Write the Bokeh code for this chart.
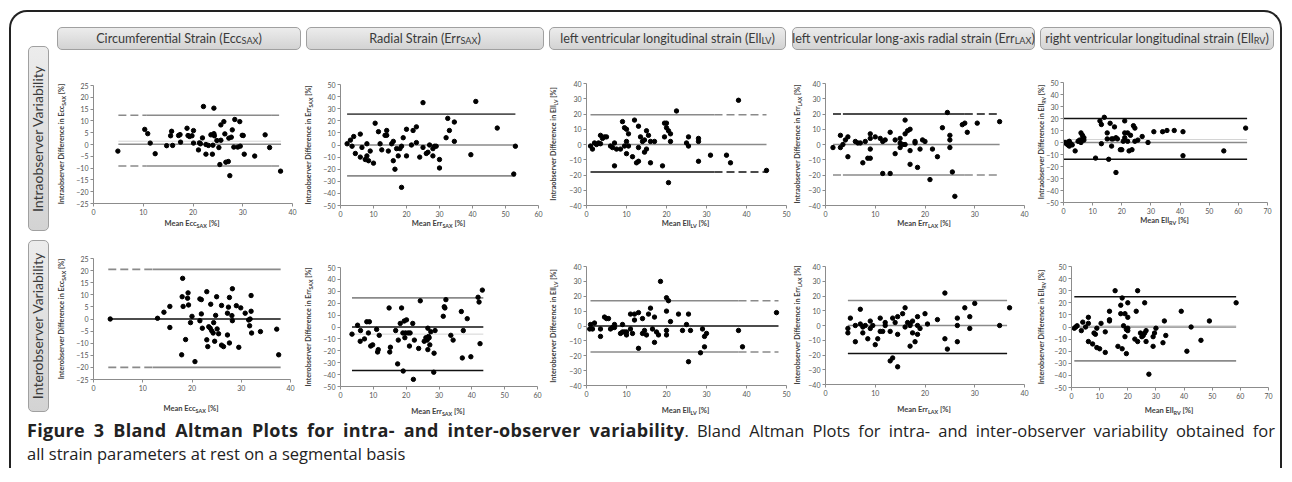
from bokeh.plotting import figure
from bokeh.models import Div, Range1d, FixedTicker
from bokeh.layouts import row, column
from bokeh.embed import file_html
from bokeh.resources import INLINE

# ------------------------------------------------------------------ data
col_titles = [
    "Circumferential Strain (Ecc<sub>SAX</sub>)",
    "Radial Strain (Err<sub>SAX</sub>)",
    "left ventricular longitudinal strain (Ell<sub>LV</sub>)",
    "left ventricular long-axis radial strain (Err<sub>LAX</sub>)",
    "right ventricular longitudinal strain (Ell<sub>RV</sub>)",
]
row_titles = ["Intraobserver Variability", "Interobserver Variability"]
row_prefix = ["Intraobserver", "Interobserver"]
param_names = ["Ecc<sub>SAX</sub>", "Err<sub>SAX</sub>", "Ell<sub>LV</sub>", "Err<sub>LAX</sub>", "Ell<sub>RV</sub>"]

x_ticks = [
    [0, 10, 20, 30, 40],
    [0, 10, 20, 30, 40, 50, 60],
    [0, 10, 20, 30, 40, 50],
    [0, 10, 20, 30, 40],
    [0, 10, 20, 30, 40, 50, 60, 70],
]
y_ticks = [
    [-25, -20, -15, -10, -5, 0, 5, 10, 15, 20, 25],
    [-50, -40, -30, -20, -10, 0, 10, 20, 30, 40, 50],
    [-40, -30, -20, -10, 0, 10, 20, 30, 40],
    [-40, -30, -20, -10, 0, 10, 20, 30, 40],
    [-50, -40, -30, -20, -10, 0, 10, 20, 30, 40, 50],
]

# (mean, difference) pairs
intra_ecc = [(4.9, -2.8), (10.3, 6.4), (10.9, 4.6), (11.4, 0.6), (12.4, -3.9), (14.7, -0.5), (15.5, 3.7),
             (15.7, 5.6), (15.9, -0.4), (17.1, 3.8), (17.4, 4.2), (17.5, 1.0), (18.8, 6.9), (19.0, 3.8),
             (19.3, 3.4), (19.8, 3.7), (20.1, 5.9), (20.1, 0.6), (21.1, -2.3), (21.3, 0.7), (21.5, 0.3),
             (21.9, 2.8), (22.1, 16.1), (22.6, -4.1), (22.6, 0.0), (23.1, -0.4), (23.6, 4.1), (23.9, -4.1),
             (24.0, -0.3), (24.2, 15.4), (24.2, 4.6), (24.3, 3.7), (24.8, 1.7), (25.2, -1.3), (25.4, -8.5),
             (25.6, 8.3), (25.6, 1.8), (26.2, 9.7), (26.4, 4.5), (26.6, -7.5), (27.1, -7.2), (27.2, 2.7),
             (27.4, -13.2), (27.7, 3.1), (27.9, 6.2), (28.2, -1.1), (28.4, 10.6), (29.0, -1.1), (29.4, 9.7),
             (29.5, -0.7), (29.9, 3.9), (30.1, 3.8), (30.3, -4.1), (32.4, -4.9), (34.5, 4.1), (35.4, -1.3),
             (37.6, -11.3)]
intra_err_sax = [(2, 1), (3, 4), (3.5, -1), (4, 7), (4.5, -7), (6, -10), (6, 9), (6.5, -2), (7.5, -12),
                 (8, -9), (8, 1), (8.5, -13), (9, -5), (10, -15), (10.5, 18), (11.5, 11), (12, 1), (12.5, -4),
                 (13.5, 8), (14, 12), (14, 8), (14.5, -5), (15.5, 1), (16, -13), (16, 3), (16.5, -20), (17, -3),
                 (17.5, -9), (18, -3), (18.5, -1), (18.5, -35), (19, 6), (20, -9), (20, 13), (21.5, 0), (22, 12),
                 (23, 2), (23, 15), (24, -10), (25, 35), (25, -2), (26, -7), (26.5, -6), (27, 0), (28, -3),
                 (28, -9), (28.5, -1), (29, -1), (30, -19), (30, -12), (32, 6), (32.5, 22), (33, 12), (34.5, 19),
                 (34.5, 3), (39.5, -8), (41, 36), (47.5, 14), (52.5, -24), (53, -1)]
intra_ell_lv = [(1, -1), (1.5, -3), (2, 1), (2.5, 0), (3, 1), (3.5, 0.5), (3.5, 6), (4, 4), (4.5, 5), (5, 5),
                (6, -1), (6.5, -2), (7, -14), (7, 1), (7.5, -3), (8.5, -3), (9, 15), (9.5, 11), (9.5, -1),
                (10, 10), (10, 2), (10, -6), (10.5, 7), (10.5, -1), (11.5, -8), (12, 16), (12.5, -12), (13, 12),
                (13, -11), (13, -2), (13.5, 5), (14, 2), (14.5, 3), (14.5, -5), (15, 9), (15, -3), (15.5, 6),
                (16, 2), (16, -12), (17, 2), (19, -14), (19.5, 5), (19.5, 14), (20, 11), (20, 14), (20.5, 9),
                (20.5, -25), (21, 7), (21, 2), (22.5, 22), (25, 1), (25.5, 5), (25.5, -1), (28, 4), (28, 2),
                (28, -11), (31, -7), (35, -7), (36, -12), (38, 29), (45, -17)]
intra_err_lax = [(1.5, -2), (3, 6), (3, -2), (3.5, 0), (4, 3), (4.5, 5), (4.5, -8), (6, 2), (6.5, 1), (7, 1),
                 (7.5, -12), (8, 2), (8.5, -9), (9, 7), (9, 4), (9, -3), (9, -9), (10, 5), (11, 4), (11.5, 2),
                 (11.5, -19), (12, 3), (13, 8), (13, -19), (14, 3), (14, -6), (15, 1), (15, 4), (15, -2),
                 (15.5, 0), (16, 16), (16, 7), (16, 0), (16.5, 9), (17, 10), (17, -13), (17, -4), (18, 1),
                 (18, 2), (18.5, -15), (19, -3), (19.5, 3), (20, 2), (21, -23), (21.5, -3), (22.5, -8),
                 (23.5, 11), (24.5, 21), (25, 6), (25, 3), (25, -2), (25.5, -18), (26, -34), (27.5, 13),
                 (28, 14), (28.5, 8), (30.5, 14), (35, 15)]
intra_ell_rv = [(0.5, 0), (1, -1), (1.5, -2), (1.5, 0), (2, -3), (2, 1), (2.5, -1), (3, -2), (4, -7), (5, 1),
                (5.5, 2), (6, 8), (6, 0), (6.5, 6), (6.5, 3), (7, 2), (7, 4), (11, -13), (12.5, 18), (13, 15),
                (13, -1), (14, 21), (15, 3), (15, 8), (15.5, -14), (16, 16), (16.5, 3), (16.5, -3), (17, 3),
                (17.5, 13), (18, 4), (18, -25), (18.5, 3), (19.5, -6), (20, -6), (20.5, 1), (21, 18), (21, 8),
                (21, 4), (22, 8), (22, 1), (22.5, -7), (23, 6), (23.5, -6), (24, 14), (24.5, 12), (24.5, 1),
                (25.5, 2), (27, 5), (29, 0), (31, 9), (34, 9), (35.5, 10), (38, 10), (41, 9), (41, -11),
                (55, -7), (62.5, 12)]

inter_ecc = [(3.4, 0), (13.0, 0.3), (14.3, 2.8), (15.5, 5.2), (15.5, -3.5), (17.9, -14.8), (18.0, 9.2),
             (18.1, 16.8), (18.2, 5.2), (18.7, -8.5), (19.1, 8.6), (19.2, 10.8), (19.3, 5.8), (19.7, -1.5),
             (20.0, 1.1), (20.6, -17.6), (21.6, -0.7), (21.6, 8.3), (21.9, 8.0), (21.9, 2.1), (22.1, -3.8),
             (23.0, 11.3), (23.0, -8.6), (23.2, -11.4), (23.4, -3.2), (23.7, -3.8), (23.8, 6.1), (24.0, -4.9),
             (24.3, -5.8), (24.4, -1.5), (24.6, -9.2), (24.8, 1.5), (25.0, 9.2), (25.1, -4.1), (25.4, -6.1),
             (26.0, 5.6), (26.0, -10.8), (26.4, -11.4), (27.2, -6.6), (27.2, 2.4), (27.4, 4.9), (27.6, 8.9),
             (27.6, -9.9), (28.1, 1.4), (28.2, 12.5), (28.2, -0.7), (29.0, 5.5), (29.5, -11.7), (29.9, 4.6),
             (30.8, 2.4), (31.5, -0.4), (31.7, -2.8), (31.8, 0), (32.0, 9.7), (32.0, 3.2), (32.1, -5.8),
             (33.9, -5.2), (37.2, -4.2), (37.6, -14.8)]
inter_err_sax = [(3.5, -6), (5.2, 1.5), (6.1, -3), (6.0, -12), (7.3, -10), (8.0, 4.4), (8.5, -5), (8.8, 4.4),
                 (9.2, -16), (9.8, -15), (11.0, -2), (11.3, -21), (11.5, -19), (11.8, -7), (14.8, 16),
                 (15.0, -21), (15.2, -17), (16.8, -3), (17.4, -31), (17.6, -11), (18.2, 3), (18.6, 16),
                 (19.0, -5), (19.1, -37), (19.4, 5), (19.6, -9), (19.8, -5), (20.1, 6), (20.6, -5), (21.0, -16),
                 (21.2, -5), (22.0, 3), (22.2, -44), (22.5, -11), (23.8, -18), (24.3, 22), (25.5, -12),
                 (26.0, -9), (26.4, -11), (26.6, -1), (26.6, -19), (26.8, -8), (27.0, -9), (27.2, -15),
                 (27.5, -4), (28.4, -38), (28.5, -22), (28.8, -3), (31.3, 9), (31.6, 17), (31.8, 16), (32.1, 23),
                 (33.6, -7), (34.3, -11), (36.8, 13), (37.1, -26), (37.4, -3), (38.6, 7), (39.7, -25),
                 (41.9, 25), (42.2, 21), (42.5, -14), (43.2, 31)]
inter_ell_lv = [(0.8, -2), (1, 1), (1.5, -2), (2, 2), (3.5, -2), (3.5, -7), (4.5, 6), (5, 5), (5.5, 5), (6, -2),
                (6.5, -1), (7, 1), (7, -1), (8.5, -5), (9, 1), (9, -4), (9.5, -4), (10, -6), (10, -4), (11, 8),
                (11, -2), (11.5, -5), (12, 8), (12, 4), (13, 9), (13, -15), (14, -5), (14, 5), (14.5, -3),
                (15, -6), (15.5, 8), (16, 12), (16.5, -2), (17, 6), (17, -11), (17.5, -4), (18, -6), (18.5, 30),
                (20, 10), (20, 19), (20, -3), (20, -6), (20.5, 17), (21, 3), (23, 8), (24, -3), (25, 1),
                (25.5, -24), (25.5, 8), (26, -3), (28.5, -18), (29, -2), (29.5, -14), (29.5, -7), (30, -5),
                (38, -3), (39, -14), (47.5, 9)]
inter_err_lax = [(4.5, -2), (4.5, -5), (5, 5), (6, 0), (6, -11), (7, 1), (7, 11), (7.5, -5), (7.5, -1), (8, 0),
                 (8.5, -9), (9, 3), (9, -2), (9.5, 0), (10, -13), (10.5, -9), (11, 5), (11, -4), (11.5, -4),
                 (12, 2), (12, 0), (13, -4), (13, -24), (13.5, 5), (13.5, -22), (14, 2), (14.5, 6), (14.5, -28),
                 (14.5, -6), (15.5, 8), (16, 12), (16, -1), (16.5, 2), (17, 0), (17, -14), (17, 1), (17.5, -5),
                 (17.5, 3), (18, -11), (18.5, 6), (18.5, -6), (18.5, 0), (19, -2), (20, 8), (20.5, 1),
                 (22.5, 4), (24, 22), (24, -9), (24.5, -16), (26.5, 5), (26.5, 0), (26.5, -11), (28, 12),
                 (29, -2), (29, 6), (30, 15), (35, 0), (37, 12)]
inter_ell_rv = [(1, -1), (1.5, 0), (2, 1), (3.5, -3), (4, 4), (5, 0), (6, 8), (6, 3), (6, -12), (7.5, -14),
                (8, -5), (8.5, -6), (9, -1), (9, -17), (10, -18), (10.5, 3), (12, -21), (12, -4), (13.5, 13),
                (13.5, 6), (13.5, 5), (15.5, 30), (16.5, -16), (17.5, 18), (17.5, 11), (18, 24), (18, -18),
                (18.5, 1), (19, -8), (19, 11), (19.5, -22), (19.5, -2), (20, 20), (20, -1), (20, -3), (20, 8),
                (22.5, -10), (23, 13), (23.5, 30), (23.5, -12), (24.5, -5), (25, -8), (25.5, -7), (26, 20),
                (26, -5), (26.5, -3), (26.5, -12), (27.5, -39), (29, -16), (29, -8), (29.5, -5), (30, -1),
                (32.5, -13), (33, 5), (33.5, -7), (39, 13), (41, -20), (42.5, 0), (46, -11), (49, 5), (58.5, 20)]

# bias / limits-of-agreement lines: (value, x_start, x_end, solid_start, solid_end)
intra_ecc_lines = [(12.4, 5.0, 37.7, 10.7, 35.7), (0.1, 5.0, 37.7, 5.0, 37.7), (1.4, 5.0, 37.7, 5.0, 37.7),
                   (-9.1, 5.0, 37.7, 10.7, 35.7)]
intra_err_sax_lines = [(25.5, 2, 53, 2, 53), (0, 2, 53, 2, 53), (-25.5, 2, 53, 2, 53)]
intra_ell_lv_lines = [(19.5, 1, 45, 1, 32), (0, 1, 45, 1, 45), (-18, 1, 45, 1, 32)]
intra_err_lax_lines = [(20, 1.5, 35, 3.5, 28), (0, 1.5, 35, 1.5, 35), (-20, 1.5, 35, 3.5, 28)]
intra_ell_rv_lines = [(20, 0, 63, 0, 63), (0, 0, 63, 0, 63), (2.5, 0, 63, 0, 63), (-14, 0, 63, 0, 63)]
inter_ecc_lines = [(20.5, 3, 38, 12, 38), (0, 3, 38, 3, 38), (-20, 3, 38, 12, 38)]
inter_err_sax_lines = [(24.5, 3.5, 43.5, 3.5, 43.5), (0, 3.5, 43.5, 3.5, 43.5), (-6, 3.5, 43.5, 3.5, 43.5),
                       (-36.5, 3.5, 43.5, 3.5, 43.5)]
inter_ell_lv_lines = [(17, 1, 48, 1, 38), (0, 1, 48, 1, 48), (-17.5, 1, 48, 1, 38)]
inter_err_lax_lines = [(17, 4.5, 36.5, 4.5, 36.5), (0, 4.5, 36.5, 4.5, 36.5), (-19, 4.5, 36.5, 4.5, 36.5)]
inter_ell_rv_lines = [(25, 1, 58.5, 1, 58.5), (0, 1, 58.5, 1, 58.5), (1, 1, 58.5, 1, 58.5), (-28, 1, 58.5, 1, 58.5)]

caption_bold = "Figure 3 Bland Altman Plots for intra- and inter-observer variability"
caption_line1 = ". Bland Altman Plots for intra- and inter-observer variability obtained for"
caption_line2 = "all strain parameters at rest on a segmental basis"

# ------------------------------------------------------------------ styles / geometry
GRAY = "#8a8a8a"
DARK = "#555555"
BLACK = "#111111"
FAINT = "#d4d4d4"
line_colors = [
    [[GRAY, GRAY, FAINT, GRAY], [DARK, GRAY, GRAY], [GRAY, GRAY, BLACK], [BLACK, GRAY, GRAY], [BLACK, GRAY, FAINT, BLACK]],
    [[GRAY, BLACK, GRAY], [GRAY, BLACK, FAINT, BLACK], [GRAY, BLACK, GRAY], [GRAY, GRAY, BLACK], [BLACK, GRAY, FAINT, GRAY]],
]
points = [[intra_ecc, intra_err_sax, intra_ell_lv, intra_err_lax, intra_ell_rv],
          [inter_ecc, inter_err_sax, inter_ell_lv, inter_err_lax, inter_ell_rv]]
lines = [[intra_ecc_lines, intra_err_sax_lines, intra_ell_lv_lines, intra_err_lax_lines, intra_ell_rv_lines],
         [inter_ecc_lines, inter_err_sax_lines, inter_ell_lv_lines, inter_err_lax_lines, inter_ell_rv_lines]]

# page-pixel geometry of the cells
cols = [(52, 302), (302, 548), (548, 792), (792, 1038), (1038, 1281)]
bands = [(55, 237), (237, 417)]
# frame_left, frame_right, frame_top, frame_bottom, xlabel_center_y, ylabel_center_x
frames = [
    [(93, 293, 86, 204, 225, 63), (340, 539, 85, 206, 222, 310), (586, 787, 84, 206, 225, 555),
     (825, 1025, 84, 206, 222, 799), (1063, 1268, 83, 203, 219, 1043)],
    [(93, 291, 259, 380, 410, 63), (340, 538, 268, 387, 413, 310), (586, 787, 267, 386, 412, 555),
     (825, 1025, 267, 385, 411, 799), (1071, 1269, 267, 388, 412, 1043)],
]
ORIGIN_X, ORIGIN_Y = 12, 13
LBL = "font-family:Lato;font-weight:bold;font-size:7.2px;color:#404040;white-space:nowrap;"
SUB = "<span style='font-size:0.72em;position:relative;top:0.32em'>"


def subfix(html):
    return html.replace("<sub>", SUB).replace("</sub>", "</span>")


def style_axis(ax, ticks):
    ax.ticker = FixedTicker(ticks=ticks)
    ax.axis_line_color = "#8c8c8c"
    ax.major_tick_line_color = "#8c8c8c"
    ax.major_tick_out = 3
    ax.major_tick_in = 0
    ax.minor_tick_line_color = None
    ax.major_label_text_font = "Lato"
    ax.major_label_text_font_size = "7px"
    ax.major_label_text_color = "#555555"
    ax.major_label_standoff = 2


def make_cell(r, c):
    col_l, col_r = cols[c]
    fl, fr, ft, fb, xl_cy, yl_cx = frames[r][c]
    bt, bb = bands[r]
    mbl, mbb = 19, 14
    fig_left = fl - mbl
    ydiv_w = fig_left - col_l
    fig_w = col_r - fig_left
    mbr = col_r - fr
    mbt = ft - bt
    fig_h = mbt + (fb - ft) + mbb
    xdiv_h = bb - bt - fig_h
    xl_top = max(0, xl_cy - 5 - (bt + fig_h))

    xt, yt = x_ticks[c], y_ticks[c]
    p = figure(width=fig_w, height=fig_h, x_range=Range1d(xt[0], xt[-1]), y_range=Range1d(yt[0], yt[-1]),
               output_backend="svg", toolbar_location=None,
               min_border_left=mbl, min_border_right=mbr, min_border_top=mbt, min_border_bottom=mbb,
               background_fill_alpha=0, border_fill_alpha=0, outline_line_color=None)
    p.grid.visible = False
    style_axis(p.xaxis[0], xt)
    style_axis(p.yaxis[0], yt)

    for (v, x0, x1, s0, s1), col in zip(lines[r][c], line_colors[r][c]):
        w = 1.0 if col == FAINT else 1.6
        if s0 > x0:
            p.line([x0, s0], [v, v], line_color=col, line_width=w, line_dash="8 4")
        if s1 < x1:
            p.line([s1, x1], [v, v], line_color=col, line_width=w, line_dash="8 4")
        p.line([s0, s1], [v, v], line_color=col, line_width=w)

    xs = [pt[0] for pt in points[r][c]]
    ys = [pt[1] for pt in points[r][c]]
    p.scatter(xs, ys, size=4.4, color="black")

    ylab = (f"{row_prefix[r]} Difference in {subfix(param_names[c])} [%]")
    ydiv = Div(width=max(ydiv_w, 1), height=bb - bt, margin=0, styles={"overflow": "visible"},
               text=(f"<div style='position:relative;width:{ydiv_w}px;height:{bb - bt}px'>"
                     f"<div style='position:absolute;left:{yl_cx - col_l}px;top:{(ft + fb) / 2 - bt}px;"
                     f"transform:translate(-50%,-50%) rotate(-90deg);{LBL}'>{ylab}</div></div>"))
    xlab = f"Mean {subfix(param_names[c])} [%]"
    xdiv = Div(width=fig_w, height=xdiv_h, margin=0, styles={"overflow": "visible"},
               text=(f"<div style='position:relative;width:{fig_w}px;height:{xdiv_h}px'>"
                     f"<div style='position:absolute;left:{(fl + fr) / 2 - fig_left}px;top:{xl_top}px;"
                     f"line-height:10px;transform:translateX(-50%);{LBL}font-size:7.5px'>{xlab}</div></div>"))
    return row(ydiv, column(p, xdiv, spacing=0), spacing=0)


BOX = ("position:absolute;box-sizing:border-box;border:1px solid #a0a0a0;border-radius:5px;"
       "background:linear-gradient(#ececec,#d3d3d3);font-family:Lato;color:#3a3a3a;"
       "display:flex;align-items:center;justify-content:center;white-space:nowrap;")

# header boxes (page x ranges)
hdr_x = [(58, 302), (307, 545), (550, 787), (793, 1036), (1041, 1275)]
hdr_html = "".join(
    f"<div style='{BOX}left:{x0 - 52}px;top:15px;width:{x1 - x0}px;height:23px;font-size:12.6px'>{subfix(t)}</div>"
    for (x0, x1), t in zip(hdr_x, col_titles))
header = Div(width=1229, height=42, margin=0,
             text=f"<div style='position:relative;width:1229px;height:42px'>{hdr_html}</div>")

# row label boxes
rl_y = [(47, 232), (241, 413)]
rl_html = "".join(
    f"<div style='{BOX}left:17px;top:{y0 - ORIGIN_Y}px;width:21px;height:{y1 - y0}px'>"
    f"<div style='transform:rotate(-90deg);font-size:14px'>{t}</div></div>"
    for (y0, y1), t in zip(rl_y, row_titles))
left = Div(width=40, height=404, margin=0,
           text=f"<div style='position:relative;width:40px;height:404px'>{rl_html}</div>")

rows_ = [row(*[make_cell(r, c) for c in range(5)], spacing=0) for r in range(2)]
right = column(header, rows_[0], rows_[1], spacing=0)

# caption: text block positioned absolutely inside a full-width box
CAP = "font-family:\"Open Sans\";color:#222;white-space:nowrap;"
caption = Div(width=1269, height=52, margin=0,
              text=(f"<div style='position:relative;width:1269px;height:52px'>"
                    f"<div style='position:absolute;left:16px;top:3px;width:1248px'>"
                    f"<div style='{CAP}font-size:16.5px;line-height:23px;text-align:justify;"
                    f"text-align-last:justify;white-space:normal'>"
                    f"<b style='font-size:18px;letter-spacing:0.3px'>{caption_bold}</b>{caption_line1}</div>"
                    f"<div style='{CAP}font-size:16.5px;line-height:23px'>{caption_line2}</div></div></div>"))

page = column(row(left, right, spacing=0), caption, spacing=0, margin=(10, 0, 0, 9),
              styles={"border-top": "2px solid #222", "border-left": "2px solid #222",
                      "border-right": "2px solid #222", "border-radius": "18px 18px 0 0"})

open("out.html", "w").write(file_html(page, INLINE))
